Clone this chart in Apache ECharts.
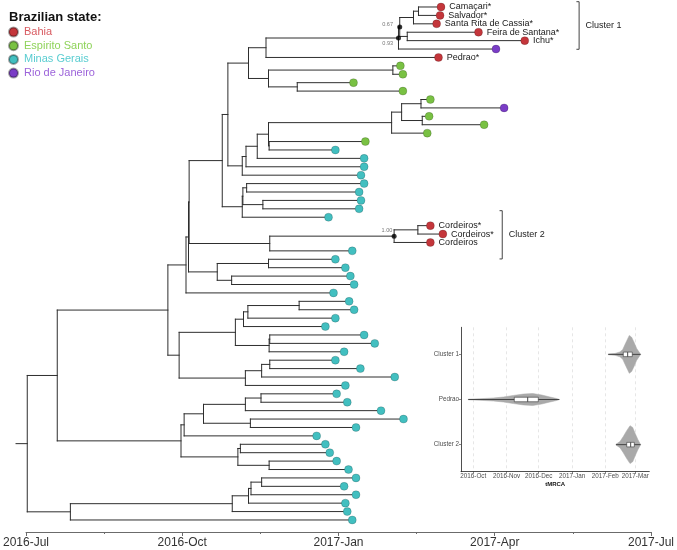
<!DOCTYPE html>
<html><head><meta charset="utf-8">
<script src="https://cdn.jsdelivr.net/npm/echarts@6.0.0/dist/echarts.min.js"></script>
<style>html,body{margin:0;padding:0;background:#fff}#c{width:677px;height:550px}</style>
</head><body><div id="c"></div>
<script>
// ---------------- DATA ----------------
const states = ['Bahia', 'Espirito Santo', 'Minas Gerais', 'Rio de Janeiro'];
const stateColors = ['#C4363B', '#79C143', '#42BFC0', '#7A3DC6'];
const legendTextColors = ['#D85A60', '#8FD35A', '#5ACDD1', '#9C63DA'];

// tip index = vertical order (0 = top)
const tipStates = [0,0,0,0,0,3,0,1,1,1,1,1,3,1,1,1,1,2,2,2,2,2,2,2,2,2,0,0,0,
  2,2,2,2,2,2,2,2,2,2,2,2,2,2,2,2,2,2,2,2,2,2,2,2,2,2,2,2,2,2,2,2,2];
const tipLabels = ['Camaçari*','Salvador*','Santa Rita de Cassia*','Feira de Santana*','Ichu*','','Pedrao*',
  '','','','','','','','','','','','','','','','','','','',
  'Cordeiros*','Cordeiros*','Cordeiros'];
const tipDates = [2017.164,2017.1625,2017.157,2017.224,2017.298,2017.252,2017.160,2017.099,2017.103,2017.024,
  2017.103,2017.147,2017.265,2017.145,2017.233,2017.142,2017.043,2016.995,2017.041,2017.041,
  2017.036,2017.041,2017.033,2017.036,2017.033,2016.984,2017.147,2017.167,2017.147,2017.022,
  2016.995,2017.011,2017.019,2017.025,2016.992,2017.017,2017.025,2016.995,2016.979,2017.041,
  2017.058,2017.009,2016.995,2017.035,2017.090,2017.011,2016.997,2017.014,2017.068,2017.104,
  2017.028,2016.965,2016.979,2016.986,2016.997,2017.016,2017.028,2017.009,2017.028,2017.011,
  2017.014,2017.022];

// clades in Newick-like form: (children)date|posterior
const cladeCluster1 = '((((0,1)2017.128,2)2017.120,(3,4)2017.110)2017.098|0.67,5)2017.096|0.93';
const cladeEspirito = '((((11,12)2017.132,(13,14)2017.134)2017.101,15)2017.085,(16,17)2016.889)2016.888';
const cladeTop = `(((${cladeCluster1},6)2016.884,((7,8)2017.087,(9,10)2016.934)2016.888)2016.856,(((${cladeEspirito},18)2016.870,19)2016.852,20)2016.846)2016.823`;
const cladeMinas1 = '(((21,22)2016.853,(23,24)2016.879)2016.847,25)2016.846';
const cladeCluster2 = '(((26,27)2017.127,28)2017.089|1.00,29)2016.890';
const cladeMinas2 = '((30,31)2016.888,(32,33)2016.829)2016.806';
const cladeMinas3 = '(((((35,36)2016.937,37)2016.855,38)2016.848,((39,40)2016.890,41)2016.889)2016.835,(((42,43)2016.890,44)2016.877,45)2016.851)2016.745';
const cladeUpper = `(((((${cladeTop},${cladeMinas1})2016.814,${cladeCluster2})2016.761,${cladeMinas2})2016.760,34)2016.756,${cladeMinas3})2016.727`;
const cladeMiddle = '(((((46,47)2016.876,48)2016.851,(49,50)2016.859)2016.784,51)2016.753,((52,53)2016.843,(54,55)2016.889)2016.839)2016.748';
const cladeBottom = '(((((56,57)2016.877,58)2016.860,59)2016.856,60)2016.830,61)2016.571';
const treeTopology = `((${cladeUpper},${cladeMiddle})2016.550,${cladeBottom})2016.502`;
const rootStubDate = 2016.484;

const xTickLabels = ['2016-Jul', '2016-Oct', '2017-Jan', '2017-Apr', '2017-Jul'];

const clusterNames = ['Cluster 1', 'Cluster 2'];
const clusterDates = [2017.385, 2017.262];
const clusterSpans = [[-0.63, 5.03], [24.22, 29.96]];

// inset (days since 2016-10-01)
const insetGroups = ['Cluster 2', 'Pedrao', 'Cluster 1'];
const insetMonthLabels = ['2016-Oct', '2016-Nov', '2016-Dec', '2017-Jan', '2017-Feb', '2017-Mar'];
const insetMonthDays = [0, 31, 61, 92, 123, 151];
const violinCluster2 = [[133.0,0.011],[136.7,0.067],[139.8,0.18],[143.0,0.31],[146.1,0.42],[148.6,0.38],[151.0,0.24],[153.5,0.11],[156.0,0]];
const violinPedrao = [[-4.7,0.007],[6.2,0.018],[18.6,0.033],[28.0,0.055],[37.3,0.09],[46.6,0.12],[55.4,0.133],[63.8,0.10],[71.5,0.055],[77.7,0.022],[80.2,0]];
const violinCluster1 = [[125.9,0.01],[132.1,0.02],[136.7,0.055],[139.3,0.11],[141.4,0.22],[143.6,0.33],[145.4,0.42],[147.6,0.38],[149.8,0.27],[152.3,0.13],[154.7,0.045],[156.0,0]];
// [lower whisker, q1, median, q3, upper whisker]
const boxCluster2 = [133.0, 143.0, 146.7, 150.1, 156.0];
const boxPedrao = [-4.7, 38.2, 50.7, 60.6, 80.2];
const boxCluster1 = [125.8, 139.8, 143.9, 148.2, 156.0];

// ---------------- BUILD ----------------
const FONT = '"Liberation Sans", Arial, Helvetica, sans-serif';
function parseTree(s) {
  let i = 0;
  function readLabel() { let l = ''; while (i < s.length && '(),'.indexOf(s[i]) < 0) l += s[i++]; return l; }
  function node() {
    if (s[i] === '(') {
      i++;
      const children = [node()];
      while (s[i] === ',') { i++; children.push(node()); }
      i++;
      const parts = readLabel().split('|');
      return { children, date: +parts[0], support: parts.length > 1 ? parts[1] : null };
    }
    const t = +readLabel();
    return { tip: t, date: tipDates[t], y: t };
  }
  return node();
}
const tree = parseTree(treeTopology.replace(/\s+/g, ''));
(function layout(n) {
  if (n.children) { n.children.forEach(layout); n.y = n.children.reduce((a, c) => a + c.y, 0) / n.children.length; }
})(tree);
const segs = [[rootStubDate, tree.y, tree.date, tree.y]];
const supports = [];
(function walk(n) {
  if (!n.children) return;
  const ys = n.children.map(c => c.y);
  segs.push([n.date, Math.min(...ys), n.date, Math.max(...ys)]);
  n.children.forEach(c => { segs.push([n.date, c.y, c.date, c.y]); walk(c); });
  if (n.support) supports.push({ value: [n.date, n.y], name: n.support });
})(tree);
supports.sort((a, b) => a.value[1] - b.value[1]);
const supportLabelPos = { '0.67': [-4.2, 0.1], '0.93': [-2.8, 7.5], '1.00': [0.8, -2.9] };

const tipSeries = states.map((st, s) => ({
  type: 'scatter', name: st, xAxisIndex: 0, yAxisIndex: 0, z: 5,
  symbolSize: 8,
  itemStyle: { color: stateColors[s], borderColor: 'rgba(0,0,0,0.35)', borderWidth: 0.5, opacity: 1 },
  label: { show: false, position: 'right', distance: 4, formatter: '{b}', fontSize: 9, color: '#1a1a1a', fontFamily: FONT },
  data: tipStates.map((v, i) => v === s ? { value: [tipDates[i], i], name: tipLabels[i] || '', label: { show: !!tipLabels[i] } } : null).filter(Boolean)
}));

const violins = [violinCluster2, violinPedrao, violinCluster1];
const boxes = [boxCluster2, boxPedrao, boxCluster1];

const option = {
  animation: false,
  backgroundColor: '#fff',
  title: { text: 'Brazilian state:', left: 9, top: 11, padding: 0,
    textStyle: { fontSize: 13, fontWeight: 'bold', color: '#111', fontFamily: FONT } },
  legend: {
    orient: 'vertical', left: 8, top: 26.5, padding: 0, itemGap: 2.7, itemWidth: 9, itemHeight: 9, icon: 'circle',
    selectedMode: false,
    data: states.map((s, i) => ({ name: s, textStyle: { color: legendTextColors[i] } })),
    textStyle: { fontSize: 11, lineHeight: 11, fontFamily: FONT, padding: [0, 0, 0, 1] }
  },
  grid: [
    { left: 23.3, right: 21.7, top: 0, bottom: 18, containLabel: false },
    { left: 461, width: 188.3, top: 327.3, height: 144.4, containLabel: false }
  ],
  xAxis: [
    { type: 'value', gridIndex: 0, min: 2016.5, max: 2017.5, interval: 0.25,
      axisLine: { onZero: false, lineStyle: { color: '#6b6b6b', width: 1 } },
      axisTick: { length: 4, lineStyle: { color: '#6b6b6b' } },
      minorTick: { show: true, splitNumber: 2, length: 2, lineStyle: { color: '#6b6b6b' } },
      splitLine: { show: false },
      axisLabel: { margin: 5, fontSize: 12, color: '#333', fontFamily: FONT, showMinLabel: true, showMaxLabel: true,
        formatter: v => xTickLabels[Math.round((v - 2016.5) / 0.25)] } },
    { type: 'value', gridIndex: 1, min: -11.47, max: 164.05,
      axisLine: { onZero: false, lineStyle: { color: '#222', width: 0.8 } },
      axisTick: { length: 2, customValues: insetMonthDays, lineStyle: { color: '#333', width: 0.6 } },
      splitLine: { show: true, lineStyle: { color: '#d6d6d6', width: 0.6, type: [3, 3] } },
      axisLabel: { margin: 1.5, fontSize: 6.3, color: '#4d4d4d', fontFamily: FONT, customValues: insetMonthDays,
        formatter: v => insetMonthLabels[insetMonthDays.indexOf(Math.round(v))] },
      name: 'tMRCA', nameLocation: 'middle', nameGap: 10,
      nameTextStyle: { fontSize: 6, fontWeight: 'bold', color: '#111', fontFamily: FONT } }
  ],
  yAxis: [
    { type: 'value', gridIndex: 0, inverse: true, min: -0.832, max: 62.43, show: false },
    { type: 'value', gridIndex: 1, min: 0.4, max: 3.6,
      axisLine: { onZero: false, show: true, lineStyle: { color: '#222', width: 0.8 } },
      axisTick: { show: true, length: 2, customValues: [1, 2, 3], lineStyle: { color: '#333', width: 0.6 } },
      splitLine: { show: false },
      axisLabel: { margin: 2, fontSize: 6.3, color: '#4d4d4d', fontFamily: FONT, customValues: [1, 2, 3],
        formatter: v => insetGroups[Math.round(v) - 1] } }
  ],
  series: [
    { type: 'custom', name: 'branches', xAxisIndex: 0, yAxisIndex: 0, clip: false, silent: true, z: 2,
      data: segs, encode: { x: [0, 2], y: [1, 3] },
      renderItem: (p, api) => {
        const a = api.coord([api.value(0), api.value(1)]), b = api.coord([api.value(2), api.value(3)]);
        return { type: 'line', shape: { x1: a[0], y1: a[1], x2: b[0], y2: b[1] },
          style: { stroke: '#2e2e2e', lineWidth: 1, lineCap: 'square' } };
      } },
    ...tipSeries,
    { type: 'scatter', name: 'support', xAxisIndex: 0, yAxisIndex: 0, z: 6, symbolSize: 5,
      itemStyle: { color: '#000' },
      data: supports.map(d => ({ value: d.value, name: d.name,
        label: { show: true, position: supportLabelPos[d.name] || 'left', align: 'right', verticalAlign: 'middle' } })),
      label: { formatter: '{b}', fontSize: 5.6, color: '#555', fontFamily: FONT } },
    { type: 'custom', name: 'clusters', xAxisIndex: 0, yAxisIndex: 0, clip: false, silent: true, z: 3,
      data: clusterNames.map((n, i) => [clusterDates[i], clusterSpans[i][0], clusterSpans[i][1]]),
      encode: { x: 0, y: [1, 2] },
      renderItem: (p, api) => {
        const a = api.coord([api.value(0), api.value(1)]), b = api.coord([api.value(0), api.value(2)]);
        const st = { stroke: '#444', lineWidth: 1 };
        return { type: 'group', children: [
          { type: 'line', shape: { x1: a[0], y1: a[1], x2: b[0], y2: b[1] }, style: st },
          { type: 'line', shape: { x1: a[0] - 2.7, y1: a[1], x2: a[0], y2: a[1] }, style: st },
          { type: 'line', shape: { x1: b[0] - 2.7, y1: b[1], x2: b[0], y2: b[1] }, style: st },
          { type: 'text', style: { text: clusterNames[p.dataIndex], x: a[0] + 6.5, y: (a[1] + b[1]) / 2,
            fill: '#222', fontSize: 9, fontFamily: FONT, verticalAlign: 'middle', align: 'left' } }
        ] };
      } },
    { type: 'custom', name: 'violins', xAxisIndex: 1, yAxisIndex: 1, clip: true, silent: true, z: 4,
      data: insetGroups.map((g, i) => [boxes[i][2], i + 1]),
      renderItem: (p, api) => {
        const gi = p.dataIndex, yc = gi + 1, prof = violins[gi], bx = boxes[gi];
        const up = prof.map(d => api.coord([d[0], yc + d[1]]));
        const lo = prof.slice().reverse().map(d => api.coord([d[0], yc - d[1]]));
        const w0 = api.coord([bx[0], yc]), w1 = api.coord([bx[4], yc]);
        const q1 = api.coord([bx[1], yc + 0.05]), q3 = api.coord([bx[3], yc - 0.05]);
        const m0 = api.coord([bx[2], yc + 0.05]), m1 = api.coord([bx[2], yc - 0.05]);
        return { type: 'group', children: [
          { type: 'polygon', shape: { points: up.concat(lo) }, style: { fill: '#a9a9a9', stroke: '#a9a9a9', lineWidth: 0.5 } },
          { type: 'line', shape: { x1: w0[0], y1: w0[1], x2: w1[0], y2: w1[1] }, style: { stroke: '#3a3a3a', lineWidth: 0.9 } },
          { type: 'rect', shape: { x: q1[0], y: q3[1], width: q3[0] - q1[0], height: q1[1] - q3[1] },
            style: { fill: '#fff', stroke: '#333', lineWidth: 0.6 } },
          { type: 'line', shape: { x1: m0[0], y1: m0[1], x2: m1[0], y2: m1[1] }, style: { stroke: '#333', lineWidth: 0.9 } }
        ] };
      } }
  ]
};
const chart = echarts.init(document.getElementById('c'));
chart.setOption(option);
</script></body></html>
